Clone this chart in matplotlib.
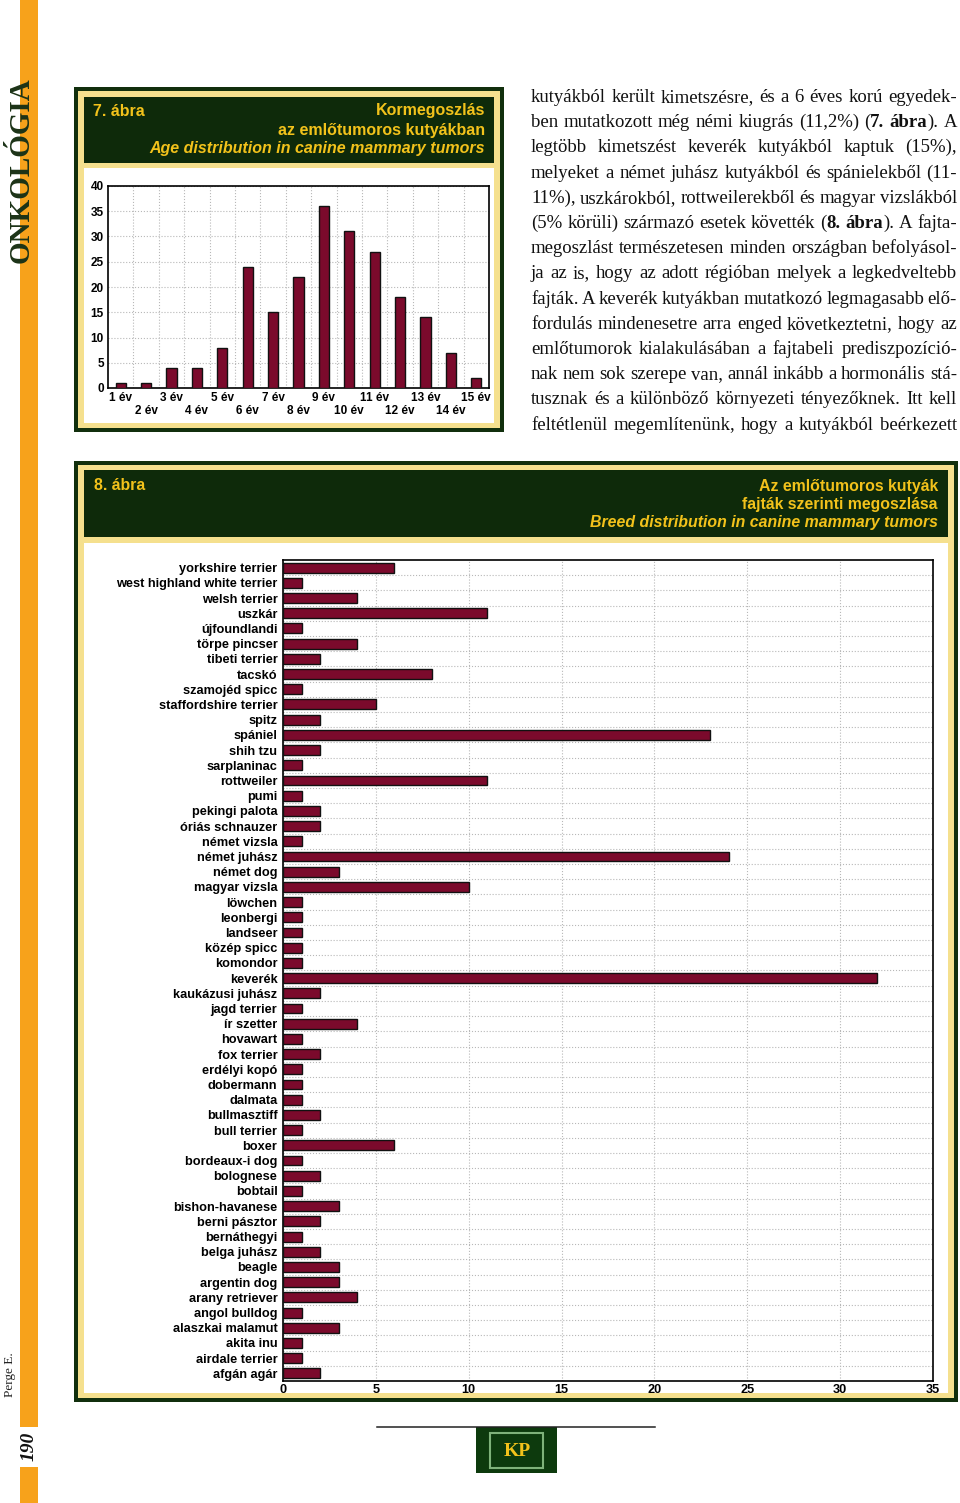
import matplotlib
matplotlib.use('Agg')
import matplotlib.pyplot as plt
from matplotlib.patches import Rectangle
from matplotlib import font_manager

# DATA ========================================================================

# 7. ábra - age distribution.
AGE_LABELS = ['1 év', '2 év', '3 év', '4 év', '5 év', '6 év', '7 év', '8 év',
              '9 év', '10 év', '11 év', '12 év', '13 év', '14 év', '15 év']
AGE_COUNTS = [1, 1, 4, 4, 8, 24, 15, 22, 36, 31, 27, 18, 14, 7, 2]
AGE_YTICKS = [0, 5, 10, 15, 20, 25, 30, 35, 40]

# 8. ábra - breed distribution (top to bottom).
BREEDS = ['yorkshire terrier', 'west highland white terrier', 'welsh terrier',
          'uszkár', 'újfoundlandi', 'törpe pincser', 'tibeti terrier',
          'tacskó', 'szamojéd spicc', 'staffordshire terrier', 'spitz',
          'spániel', 'shih tzu', 'sarplaninac', 'rottweiler', 'pumi',
          'pekingi palota', 'óriás schnauzer', 'német vizsla',
          'német juhász', 'német dog', 'magyar vizsla', 'löwchen',
          'leonbergi', 'landseer', 'közép spicc', 'komondor', 'keverék',
          'kaukázusi juhász', 'jagd terrier', 'ír szetter', 'hovawart',
          'fox terrier', 'erdélyi kopó', 'dobermann', 'dalmata',
          'bullmasztiff', 'bull terrier', 'boxer', 'bordeaux-i dog',
          'bolognese', 'bobtail', 'bishon-havanese', 'berni pásztor',
          'bernáthegyi', 'belga juhász', 'beagle', 'argentin dog',
          'arany retriever', 'angol bulldog', 'alaszkai malamut',
          'akita inu', 'airdale terrier', 'afgán agár']
BREED_COUNTS = [6, 1, 4, 11, 1, 4, 2, 8, 1, 5, 2, 23, 2, 1, 11, 1, 2, 2, 1,
                24, 3, 10, 1, 1, 1, 1, 1, 32, 2, 1, 4, 1, 2, 1, 1, 1, 2, 1, 6,
                1, 2, 1, 3, 2, 1, 2, 3, 3, 4, 1, 3, 1, 1, 2]
BREED_XTICKS = [0, 5, 10, 15, 20, 25, 30, 35]

# Body text (justified, * toggles bold).
BODY_LINES = [
    'kutyákból került kimetszésre, és a 6 éves korú egyedek-',
    'ben mutatkozott még némi kiugrás (11,2%) (*7. ábra*). A',
    'legtöbb kimetszést keverék kutyákból kaptuk (15%),',
    'melyeket a német juhász kutyákból és spánielekből (11-',
    '11%), uszkárokból, rottweilerekből és magyar vizslákból',
    '(5% körüli) származó esetek követték (*8. ábra*). A fajta-',
    'megoszlást természetesen minden országban befolyásol-',
    'ja az is, hogy az adott régióban melyek a legkedveltebb',
    'fajták. A keverék kutyákban mutatkozó legmagasabb elő-',
    'fordulás mindenesetre arra enged következtetni, hogy az',
    'emlőtumorok kialakulásában a fajtabeli prediszpozíció-',
    'nak nem sok szerepe van, annál inkább a hormonális stá-',
    'tusznak és a különböző környezeti tényezőknek. Itt kell',
    'feltétlenül megemlítenünk, hogy a kutyákból beérkezett',
]

# STYLE =======================================================================

W, H = 960, 1503
ORANGE = '#f7a21b'
DARK_GREEN = '#112f0d'
HEAD_GREEN = '#0e2a0a'
CREAM = '#f5e08e'
GOLD = '#f2c21b'
BAR = '#7b0a2c'
GRID = '#b8b8b8'

plt.rcParams['font.family'] = ['Liberation Sans', 'DejaVu Sans']
plt.rcParams['font.weight'] = 'bold'

names = {f.name for f in font_manager.fontManager.ttflist}
NARROW = 'Liberation Sans Narrow' if 'Liberation Sans Narrow' in names else 'Liberation Sans'
NARROW_SIZE = 13 if NARROW == 'Liberation Sans Narrow' else 11.4

fig = plt.figure(figsize=(W / 100, H / 100), dpi=100)
bg = fig.add_axes([0, 0, 1, 1])
bg.set_xlim(0, W)
bg.set_ylim(H, 0)
bg.axis('off')


def box(x0, y0, x1, y1, color, **kw):
    bg.add_patch(Rectangle((x0, y0), x1 - x0, y1 - y0, facecolor=color,
                           edgecolor='none', **kw))


def px_axes(x0, y0, x1, y1):
    return fig.add_axes([x0 / W, 1 - y1 / H, (x1 - x0) / W, (y1 - y0) / H])


# PAGE DECORATION =============================================================

box(20, 0, 38, 1427, ORANGE)
box(20, 1467, 38, H, ORANGE)
bg.text(21, 170, 'ONKOLÓGIA', rotation=90, ha='center', va='center',
        family='Liberation Serif', fontsize=21, color='#1c3317')
bg.text(10, 1375, 'Perge E.', rotation=90, ha='center', va='center',
        family='Liberation Serif', weight='normal', fontsize=9.5,
        color='#222222')
bg.text(29, 1446, '190', rotation=90, ha='center', va='center',
        family='Liberation Serif', style='italic', fontsize=14,
        color='#111111')

# footer logo
bg.plot([377, 655], [1427, 1427], color='#222222', lw=1.1)
box(476, 1427, 557, 1473, '#0d3a0d')
bg.add_patch(Rectangle((490, 1433), 53, 35, facecolor='none',
                       edgecolor='#7fb27a', lw=1.5))
bg.text(517, 1451, 'KP', ha='center', va='center', family='Liberation Serif',
        fontsize=14, color=GOLD)

# 7. ÁBRA =====================================================================

box(74, 87, 504, 432, DARK_GREEN)
box(78, 91, 500, 428, CREAM)
box(84, 97, 494, 163, HEAD_GREEN)
box(84, 168, 494, 423, 'white')
bg.text(93, 111, '7. ábra', color=GOLD, fontsize=11.5, ha='left', va='center')
bg.text(485, 111, 'Kormegoszlás', color=GOLD, fontsize=11.5, ha='right',
        va='center')
bg.text(485, 130, 'az emlőtumoros kutyákban', color=GOLD, fontsize=11.5,
        ha='right', va='center')
bg.text(485, 149, 'Age distribution in canine mammary tumors', color=GOLD,
        fontsize=11.5, style='italic', ha='right', va='center')

ax7 = px_axes(108, 186, 489, 388)
pos7 = list(range(len(AGE_COUNTS)))
ax7.bar(pos7, AGE_COUNTS, width=0.4, color=BAR, edgecolor='#111111',
        linewidth=1, zorder=3)
ax7.set_xlim(-0.5, len(AGE_COUNTS) - 0.5)
ax7.set_ylim(AGE_YTICKS[0], AGE_YTICKS[-1])
ax7.set_yticks(AGE_YTICKS)
ax7.set_xticks(pos7, AGE_LABELS)
ax7.set_xticks([p + 0.5 for p in pos7[:-1]], minor=True)
ax7.grid(which='minor', axis='x', ls=':', color=GRID, lw=0.8)
ax7.grid(which='major', axis='y', ls=':', color=GRID, lw=0.8)
ax7.tick_params(which='both', length=0, labelsize=8.5, pad=3)
for i, tick in enumerate(ax7.xaxis.get_major_ticks()):
    tick.set_pad(3 if i % 2 == 0 else 12)  # staggered two-row labels
for s in ax7.spines.values():
    s.set_linewidth(1.2)

# 8. ÁBRA =====================================================================

box(74, 461, 958, 1402, DARK_GREEN)
box(78, 465, 954, 1398, CREAM)
box(84, 470, 948, 537, HEAD_GREEN)
box(84, 543, 948, 1393, 'white')
bg.text(94, 486, '8. ábra', color=GOLD, family=NARROW, fontsize=NARROW_SIZE,
        ha='left', va='center')
bg.text(938, 486, 'Az emlőtumoros kutyák', color=GOLD, family=NARROW,
        fontsize=NARROW_SIZE, ha='right', va='center')
bg.text(938, 504, 'fajták szerinti megoszlása', color=GOLD, family=NARROW,
        fontsize=NARROW_SIZE, ha='right', va='center')
bg.text(938, 522, 'Breed distribution in canine mammary tumors', color=GOLD,
        family=NARROW, fontsize=NARROW_SIZE, style='italic', ha='right',
        va='center')

ax8 = px_axes(283, 560, 933, 1381)
pos8 = list(range(len(BREEDS)))
ax8.barh(pos8, BREED_COUNTS, height=0.65, color=BAR, edgecolor='#111111',
         linewidth=1, zorder=3)
ax8.set_ylim(len(BREEDS) - 0.5, -0.5)
ax8.set_xlim(BREED_XTICKS[0], BREED_XTICKS[-1])
ax8.set_xticks(BREED_XTICKS)
ax8.set_yticks(pos8, BREEDS)
ax8.set_yticks([p + 0.5 for p in pos8[:-1]], minor=True)
ax8.grid(which='minor', axis='y', ls=':', color=GRID, lw=0.8)
ax8.grid(which='major', axis='x', ls=':', color=GRID, lw=0.8)
ax8.tick_params(which='both', length=0, labelsize=9.2)
ax8.tick_params(axis='y', pad=4)
ax8.tick_params(axis='x', pad=2)
for s in ax8.spines.values():
    s.set_linewidth(1.2)

# BODY TEXT (justified) =======================================================

renderer = fig.canvas.get_renderer()
BODY_X0, BODY_X1 = 531, 957


def place_line(words, yb, size):
    texts, widths = [], []
    for frags in words:
        ts = [bg.text(0, yb, p, family='Liberation Serif', fontsize=size,
                      weight='bold' if b else 'normal', color='#111111',
                      ha='left', va='baseline') for p, b in frags]
        texts.append(ts)
        widths.append([t.get_window_extent(renderer).width for t in ts])
    total = sum(sum(ws) for ws in widths)
    gap = (BODY_X1 - BODY_X0 - total) / (len(words) - 1)
    return texts, widths, gap


for i, line in enumerate(BODY_LINES):
    yb = 102 + i * 25.2
    bold = False
    words = []
    for w in line.split(' '):
        frags = []
        for k, p in enumerate(w.split('*')):
            if k > 0:
                bold = not bold
            if p:
                frags.append((p, bold))
        words.append(frags)
    size = 13.5
    texts, widths, gap = place_line(words, yb, size)
    while gap < 3:  # too long: shrink this line a little
        for ts in texts:
            for t in ts:
                t.remove()
        size -= 0.2
        texts, widths, gap = place_line(words, yb, size)
    x = BODY_X0
    for ts, ws in zip(texts, widths):
        for t, w in zip(ts, ws):
            t.set_x(x)
            x += w
        x += gap

fig.savefig('out.png', dpi=100)
